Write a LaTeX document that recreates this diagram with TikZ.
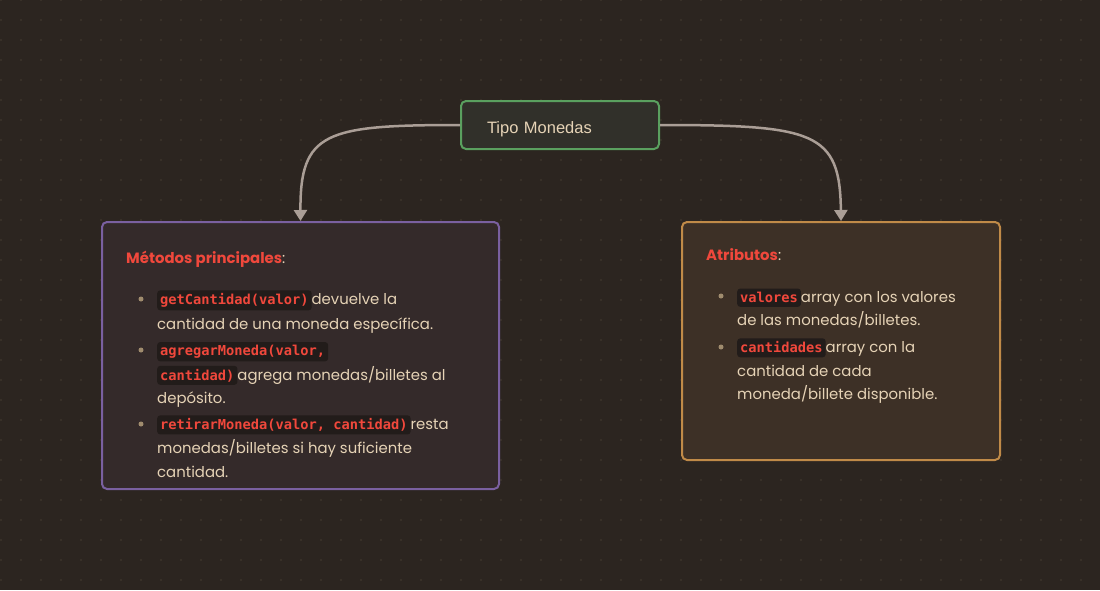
\documentclass[tikz,border=0pt]{standalone}
\usepackage{fontspec}
\setmainfont{Poppins}
\setmonofont{DejaVu Sans Mono}
\newfontfamily\tipofont{Liberation Sans}
\usetikzlibrary{arrows.meta}

\definecolor{canvas}{HTML}{2C2520}
\definecolor{griddot}{HTML}{463C32}
\definecolor{tipofill}{HTML}{31302A}
\definecolor{tipoline}{HTML}{5AA05F}
\definecolor{metfill}{HTML}{342A2A}
\definecolor{metline}{HTML}{7A60A0}
\definecolor{atrfill}{HTML}{3D3026}
\definecolor{atrline}{HTML}{C08A48}
\definecolor{bodytext}{HTML}{E6D3B6}
\definecolor{headred}{HTML}{F0483C}
\definecolor{codebg}{HTML}{221C1A}
\definecolor{bulletcol}{HTML}{A08C6E}
\definecolor{linkgray}{HTML}{AA9E96}

\tikzset{
  card/.style={draw, line width=2pt, rounded corners=5pt, anchor=north west, inner sep=0pt},
  link/.style={draw=linkgray, line width=2.5pt, -{Triangle[length=11pt,width=13pt]}},
  code/.style={fill=codebg, rounded corners=3pt, inner xsep=3pt, inner ysep=3pt, anchor=base,
    text=headred, font=\ttfamily\bfseries\fontsize{13.7}{13.7}\selectfont},
  txt/.style={anchor=base west, inner sep=0pt, text=bodytext, font=\fontsize{14.9}{14.9}\selectfont},
  head/.style={anchor=base west, inner sep=0pt, text=bodytext, font=\fontsize{14.9}{14.9}\selectfont},
  dot/.style={fill=bulletcol, draw=none, circle, inner sep=0pt, minimum size=5pt},
}
\newcommand{\codespan}[1]{\tikz[baseline=(cs.base)]\node[code](cs){\vphantom{(}#1};}

\begin{document}
\begin{tikzpicture}[x=1pt, y=-1pt]
\useasboundingbox (0,0) rectangle (1100,590);
\fill[canvas] (0,0) rectangle (1100,590);
\foreach \x in {1, 21, ..., 1100} {%
  \foreach \y in {0, 20, ..., 590} {%
    \fill[griddot] (\x,\y) circle (0.8pt);
  }
}

  \node[draw=tipoline, fill=tipofill, line width=2pt, rounded corners=5pt, text width=146pt, align=left,
        inner xsep=26pt, minimum height=48pt, text height=16pt, text depth=0pt, text=bodytext,
        font=\tipofont\fontsize{16.5}{16.5}\selectfont]
        (tipo) at (560,125) {Tipo Monedas};

  \node[card, draw=metline, fill=metfill, minimum width=397pt, minimum height=267pt] (metodos) at (101,221) {};
  \node[card, draw=atrline, fill=atrfill, minimum width=318pt, minimum height=238pt] (atributos) at (681,221) {};

  \draw[link] (tipo.west) .. controls (325,125) and (300,132) .. (metodos.north);
  \draw[link] (tipo.east) .. controls (815,125) and (840,132) .. (atributos.north);

  % Metodos principales
  \node[head] (methead) at (126,263) {\textcolor{headred}{\textbf{Métodos principales}}:};
  \node[dot] (b1) at (141,299) {};
  \node[dot] (b2) at (141,350) {};
  \node[dot] (b3) at (141,424) {};
  \node[txt] (m1) at (157,304.5) {\codespan{getCantidad(valor)}devuelve la};
  \node[txt] (m2) at (157,329) {cantidad de una moneda específica.};
  \node[txt] (m3) at (157,355.5) {\codespan{agregarMoneda(valor,\ }};
  \node[txt] (m4) at (157,380) {\codespan{cantidad)}agrega monedas/billetes al};
  \node[txt] (m5) at (157,403) {depósito.};
  \node[txt] (m6) at (157,429.5) {\codespan{retirarMoneda(valor, cantidad)}resta};
  \node[txt] (m7) at (157,453) {monedas/billetes si hay suficiente};
  \node[txt] (m8) at (157,477) {cantidad.};

  % Atributos
  \node[head] (atrhead) at (706,260) {\textcolor{headred}{\textbf{Atributos}}:};
  \node[dot] (c1) at (721,296) {};
  \node[dot] (c2) at (721,347) {};
  \node[txt] (a1) at (737,302) {\codespan{valores}array con los valores};
  \node[txt] (a2) at (737,325) {de las monedas/billetes.};
  \node[txt] (a3) at (737,352.5) {\codespan{cantidades}array con la};
  \node[txt] (a4) at (737,376.5) {cantidad de cada};
  \node[txt] (a5) at (737,399.5) {moneda/billete disponible.};
\end{tikzpicture}
\end{document}
